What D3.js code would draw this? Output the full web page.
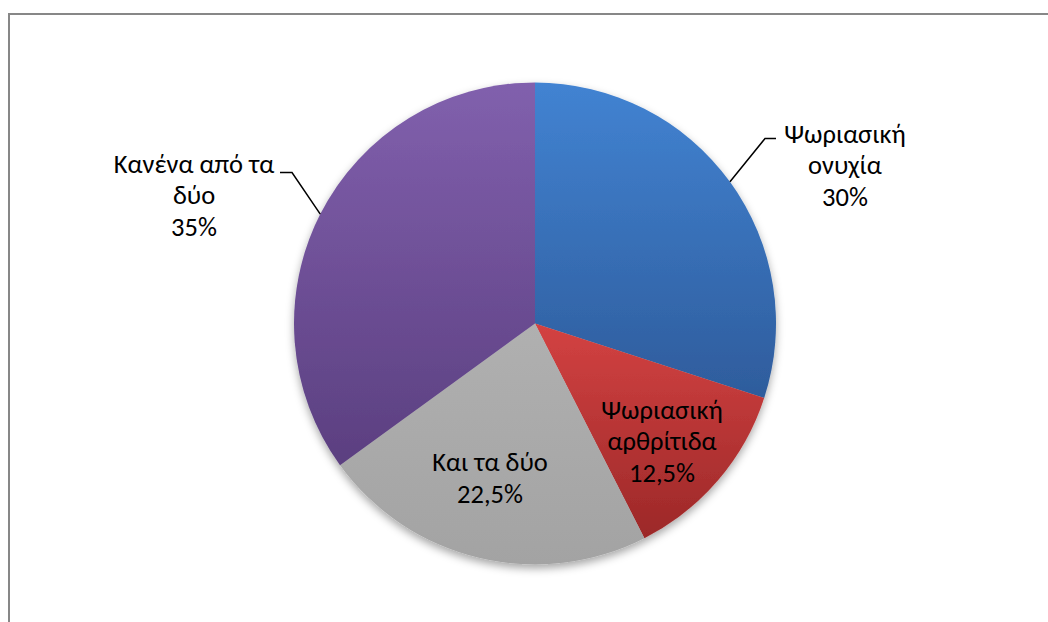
<!DOCTYPE html>
<html>
<head>
<meta charset="utf-8">
<script src="https://cdn.jsdelivr.net/npm/d3@7"></script>
<style>
  body { margin: 0; background: #fff; }
  svg text { font-family: Calibri, Lato, "Noto Sans", sans-serif; }
</style>
</head>
<body>
<div id="chart"></div>
<script>
// === Data ===
const categories = [
  ["Ψωριασική", "ονυχία"],
  ["Ψωριασική", "αρθρίτιδα"],
  ["Και τα δύο"],
  ["Κανένα από τα", "δύο"]
];
const values = [30, 12.5, 22.5, 35];
const percentLabels = ["30%", "12,5%", "22,5%", "35%"];

// gradient top / bottom colours per slice
const colorsTop = ["#4283d2", "#d34242", "#b0b0b0", "#8160ad"];
const colorsBottom = ["#2e5c9c", "#9c2828", "#a3a3a3", "#5b3f80"];

const width = 1048;
const height = 622;
const cx = 535, cy = 323.5, radius = 241;

const svg = d3.select("#chart")
  .append("svg")
  .attr("width", width)
  .attr("height", height);

// chart area border (right/bottom fall outside the window)
svg.append("rect")
  .attr("x", 9).attr("y", 14)
  .attr("width", 1060).attr("height", 640)
  .attr("fill", "#fff")
  .attr("stroke", "#878787")
  .attr("stroke-width", 2);

const defs = svg.append("defs");

values.forEach((v, i) => {
  const g = defs.append("linearGradient")
    .attr("id", "grad" + i)
    .attr("x1", 0).attr("y1", 0).attr("x2", 0).attr("y2", 1);
  g.append("stop").attr("offset", "0%").attr("stop-color", colorsTop[i]);
  g.append("stop").attr("offset", "100%").attr("stop-color", colorsBottom[i]);
});

const shadow = defs.append("filter")
  .attr("id", "shadow")
  .attr("x", "-20%").attr("y", "-20%")
  .attr("width", "140%").attr("height", "140%");
shadow.append("feDropShadow")
  .attr("dx", 0).attr("dy", 4)
  .attr("stdDeviation", 4)
  .attr("flood-color", "#000")
  .attr("flood-opacity", 0.35);

const g = svg.append("g").attr("transform", `translate(${cx},${cy})`);

const pie = d3.pie().sort(null).value((d) => d);
const arcs = pie(values);
const arc = d3.arc().innerRadius(0).outerRadius(radius);

// === Slices ===
const sliceGroup = g.append("g").attr("filter", "url(#shadow)");
sliceGroup.selectAll("path")
  .data(arcs)
  .enter()
  .append("path")
  .attr("d", arc)
  .attr("fill", (d, i) => `url(#grad${i})`);

// === Labels ===
// label centre relative to pie centre; outside labels get a leader line
const labelLayout = [
  { dx: 310, dy: -158.5, outside: true, elbow: [230, -185], end: [241, -185] },
  { dx: 127, dy: 117.5, outside: false },
  { dx: -45, dy: 154.5, outside: false },
  { dx: -341, dy: -128.5, outside: true, elbow: [-243, -151], end: [-255, -151] }
];

const lineH = 31.5;
const fontSize = 26.5;

arcs.forEach((d, i) => {
  const L = labelLayout[i];
  const lines = categories[i].concat([percentLabels[i]]);
  const t = g.append("text")
    .attr("text-anchor", "middle")
    .attr("font-size", fontSize + "px")
    .attr("fill", "#000");
  lines.forEach((s, k) => {
    t.append("tspan")
      .attr("x", L.dx)
      .attr("y", L.dy + (k - (lines.length - 1) / 2) * lineH + 9)
      .text(s);
  });

  if (L.outside) {
    const mid = (d.startAngle + d.endAngle) / 2;
    const p0 = [Math.sin(mid) * radius, -Math.cos(mid) * radius];
    g.append("path")
      .attr("d", d3.line()([p0, L.elbow, L.end]))
      .attr("fill", "none")
      .attr("stroke", "#000")
      .attr("stroke-width", 1.5);
  }
});
</script>
</body>
</html>
